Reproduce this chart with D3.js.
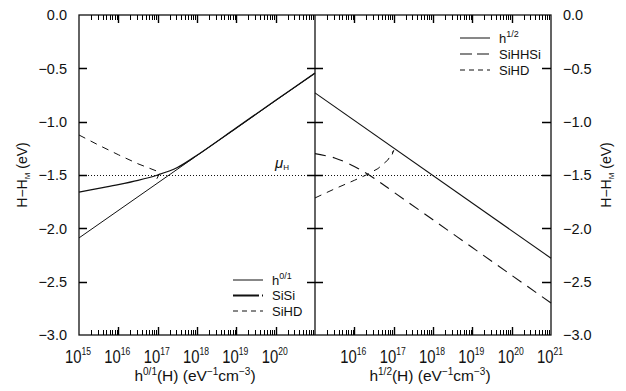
<!DOCTYPE html>
<html>
<head>
<meta charset="utf-8">
<script src="https://cdn.jsdelivr.net/npm/d3@7"></script>
<style>
  body { margin: 0; background: #fff; }
  text { font-family: "Liberation Sans", Arial, Helvetica, sans-serif; fill: #111; }
</style>
</head>
<body>
<div id="chart"></div>
<script>
// ---- data (x values are log10 of h(H), y values in eV) ----
var yTicks = [0, -0.5, -1, -1.5, -2, -2.5, -3];
var leftExps = [15, 16, 17, 18, 19, 20];
var rightExps = [16, 17, 18, 19, 20, 21];
var muH = -1.5;

// left panel: h^{0/1}
var h01X = [15, 21];
var h01Y = [-2.09, -0.545];
var siSiX = [15, 15.5, 16, 16.5, 17, 17.5, 18, 19, 20, 21];
var siSiY = [-1.66, -1.625, -1.59, -1.55, -1.50, -1.43, -1.315, -1.058, -0.80, -0.545];
var siHdLX = [15, 15.5, 16, 16.5, 17.06, 16.98];
var siHdLY = [-1.125, -1.22, -1.31, -1.395, -1.475, -1.535];

// right panel: h^{1/2}
var h12X = [15, 21];
var h12Y = [-0.73, -2.28];
var siHHSiX = [15, 15.5, 16, 16.5, 17, 18, 19, 20, 21];
var siHHSiY = [-1.30, -1.34, -1.42, -1.53, -1.66, -1.92, -2.18, -2.44, -2.70];
var siHdRX = [15, 15.5, 16, 16.3, 16.6, 16.85, 17.0, 16.94];
var siHdRY = [-1.715, -1.63, -1.55, -1.50, -1.44, -1.36, -1.27, -1.33];

var width = 626, height = 391;
var x0 = 79, xMid = 315, x1 = 551, yTop = 15, yBot = 335;

var svg = d3.select("#chart").append("svg")
    .attr("width", width)
    .attr("height", height);

var y = d3.scaleLinear().domain([-3, 0]).range([yBot, yTop]);
var xL = d3.scaleLog().domain([1e15, 1e21]).range([x0, xMid]);
var xR = d3.scaleLog().domain([1e15, 1e21]).range([xMid, x1]);

function pts(xs, ys) {
  return xs.map(function(v, i) { return [Math.pow(10, v), ys[i]]; });
}

// frame
svg.append("rect")
    .attr("x", x0).attr("y", yTop)
    .attr("width", x1 - x0).attr("height", yBot - yTop)
    .attr("fill", "none").attr("stroke", "#111").attr("stroke-width", 1.3);
svg.append("line")
    .attr("x1", xMid).attr("x2", xMid).attr("y1", yTop).attr("y2", yBot)
    .attr("stroke", "#111").attr("stroke-width", 1.3);

var fmt = d3.format(".1f");
yTicks.forEach(function(d) {
  svg.append("text").attr("x", 67).attr("y", y(d)).attr("dy", "0.36em")
      .attr("text-anchor", "end").attr("font-size", 14.5).text(fmt(d));
  svg.append("text").attr("x", 563).attr("y", y(d)).attr("dy", "0.36em")
      .attr("text-anchor", "start").attr("font-size", 14.5).text(fmt(d));
});

// x tick labels 10^n
function powLabel(sc, e) {
  var t = svg.append("text")
      .attr("transform", "translate(" + (sc(Math.pow(10, e)) - 1) + ",363) scale(0.78,1)")
      .attr("text-anchor", "middle");
  t.append("tspan").attr("font-size", 19).text("10");
  t.append("tspan").attr("font-size", 11).attr("dy", -8).text(e);
}
leftExps.forEach(function(e) { powLabel(xL, e); });
rightExps.forEach(function(e) { powLabel(xR, e); });

// axis titles
function xTitle(cx, sup) {
  var t = svg.append("text").attr("x", cx).attr("y", 381)
      .attr("text-anchor", "middle").attr("font-size", 15.5);
  t.append("tspan").text("h");
  t.append("tspan").attr("font-size", 10).attr("dy", -6).text(sup);
  t.append("tspan").attr("dy", 6).text("(H) (eV");
  t.append("tspan").attr("font-size", 10).attr("dy", -6).text("\u22121");
  t.append("tspan").attr("dy", 6).text("cm");
  t.append("tspan").attr("font-size", 10).attr("dy", -6).text("\u22123");
  t.append("tspan").attr("dy", 6).text(")");
}
xTitle(195, "0/1");
xTitle(430, "1/2");

function yTitle(bx) {
  var t = svg.append("text")
      .attr("transform", "translate(" + bx + ",175) rotate(-90)")
      .attr("text-anchor", "middle").attr("font-size", 14);
  t.append("tspan").text("H\u2212H");
  t.append("tspan").attr("font-size", 8).attr("dy", 3).text("M");
  t.append("tspan").attr("dy", -3).text(" (eV)");
}
yTitle(27);
yTitle(611);

// mu_H dotted line
svg.append("line")
    .attr("x1", x0).attr("x2", x1)
    .attr("y1", Math.round(y(muH)) + 0.5).attr("y2", Math.round(y(muH)) + 0.5)
    .attr("stroke", "#111").attr("stroke-dasharray", "1,2");
var mu = svg.append("text").attr("x", 275).attr("y", 168).attr("font-size", 15);
mu.append("tspan").attr("font-style", "italic").text("\u03bc");
mu.append("tspan").attr("font-size", 8).attr("dy", 2).text("H");

// curves
var lineL = d3.line().x(function(d) { return xL(d[0]); }).y(function(d) { return y(d[1]); });
var lineR = d3.line().x(function(d) { return xR(d[0]); }).y(function(d) { return y(d[1]); });
var curvy = d3.curveCatmullRom.alpha(0.5);

var series = [
  { gen: lineL, data: pts(h01X, h01Y), w: 1, dash: null, curve: d3.curveLinear },
  { gen: lineL, data: pts(siSiX, siSiY), w: 1.3, dash: null, curve: curvy },
  { gen: lineL, data: pts(siHdLX, siHdLY), w: 1, dash: "7,6", curve: d3.curveLinear },
  { gen: lineR, data: pts(h12X, h12Y), w: 1.1, dash: null, curve: d3.curveLinear },
  { gen: lineR, data: pts(siHHSiX, siHHSiY), w: 1.1, dash: "11,7", curve: curvy },
  { gen: lineR, data: pts(siHdRX, siHdRY), w: 1, dash: "7,6", curve: d3.curveLinear }
];
series.forEach(function(s) {
  svg.append("path")
      .attr("d", s.gen.curve(s.curve)(s.data))
      .attr("fill", "none").attr("stroke", "#111")
      .attr("stroke-width", s.w)
      .attr("stroke-dasharray", s.dash);
});

// legends
var legendL = [
  { name: "h", sup: "0/1", w: 1, dash: null },
  { name: "SiSi", sup: "", w: 1.8, dash: "26,3,1.5,20" },
  { name: "SiHD", sup: "", w: 1, dash: "5,4" }
];
var legendR = [
  { name: "h", sup: "1/2", w: 1, dash: null },
  { name: "SiHHSi", sup: "", w: 1.1, dash: "12,5" },
  { name: "SiHD", sup: "", w: 1, dash: "5,4" }
];
function legend(items, lx, ly, step) {
  items.forEach(function(it, i) {
    var yy = ly + i * step;
    svg.append("line").attr("x1", lx).attr("x2", lx + 30).attr("y1", yy).attr("y2", yy)
        .attr("stroke", "#111").attr("stroke-width", it.w).attr("stroke-dasharray", it.dash);
    var t = svg.append("text").attr("x", lx + 39).attr("y", yy).attr("dy", "0.36em")
        .attr("font-size", 13);
    t.append("tspan").text(it.name);
    if (it.sup) t.append("tspan").attr("font-size", 9).attr("dy", -6).text(it.sup);
  });
}
legend(legendL, 233, 280, 15.5);
legend(legendR, 460, 38, 16);

// ticks, drawn last as single paths
var majorD = "", minorD = "";
[xL, xR].forEach(function(sc) {
  var r = sc.range();
  sc.ticks().forEach(function(t) {
    var px = sc(t);
    if (px < r[0] + 1 || px > r[1] - 1) return;
    var lg = Math.log10(t);
    var major = Math.abs(lg - Math.round(lg)) < 1e-6;
    var xx = (Math.round(px) + 0.5).toFixed(1);
    var seg = "M" + xx + "," + yTop + "v" + (major ? 8 : 5) +
              "M" + xx + "," + yBot + "v" + (major ? -8 : -5);
    if (major) majorD += seg; else minorD += seg;
  });
});
yTicks.filter(function(d) { return d < 0 && d > -3; }).forEach(function(d) {
  var py = (Math.round(y(d)) + 0.5).toFixed(1);
  majorD += "M" + x0 + "," + py + "h8";
  majorD += "M" + (xMid - 8) + "," + py + "h16";
  majorD += "M" + (x1 - 9) + "," + py + "h9";
});
svg.append("path").attr("d", minorD).attr("fill", "none")
    .attr("stroke", "#000").attr("stroke-width", 1);
svg.append("path").attr("d", majorD).attr("fill", "none")
    .attr("stroke", "#000").attr("stroke-width", 1.4);
</script>
</body>
</html>
